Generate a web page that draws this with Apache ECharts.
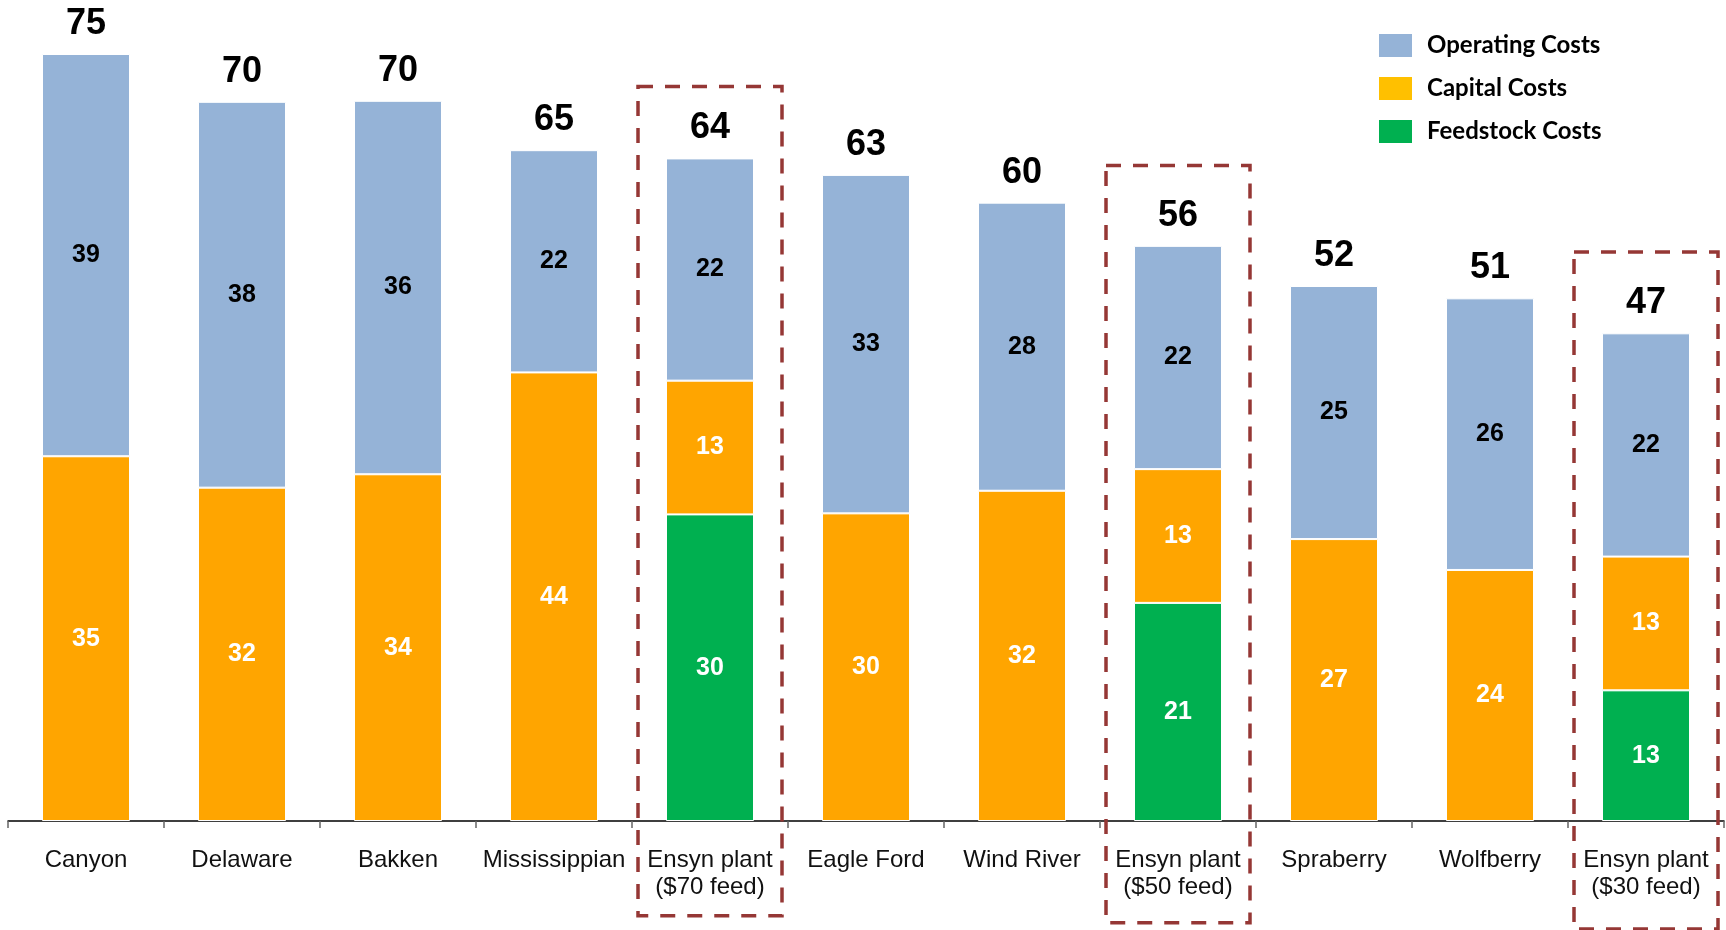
<!DOCTYPE html>
<html>
<head>
<meta charset="utf-8">
<script src="https://cdn.jsdelivr.net/npm/echarts@6/dist/echarts.min.js"></script>
<style>
html,body{margin:0;padding:0;background:#fff;}
#main{width:1726px;height:930px;}
</style>
</head>
<body>
<div id="main"></div>
<script>
const categories = ['Canyon','Delaware','Bakken','Mississippian','Ensyn plant\n($70 feed)','Eagle Ford','Wind River','Ensyn plant\n($50 feed)','Spraberry','Wolfberry','Ensyn plant\n($30 feed)'];
const feedstock = [null,null,null,null,29.8,null,null,21.2,null,null,12.7];
const capital   = [35.45,32.4,33.7,43.6,13.0,29.9,32.1,13.0,27.4,24.4,13.0];
const operating = [39.1,37.5,36.3,21.6,21.6,32.9,28.0,21.7,24.6,26.4,21.7];
const totals = categories.map((c,i)=>(feedstock[i]||0)+capital[i]+operating[i]);

// highlighted (dashed-box) categories and their vertical extent in value units
const boxCats = [4,7,10];
const boxTop = [71.4,63.7,55.3];
const boxBottom = [-9.2,-9.9,-10.5];

const chart = echarts.init(document.getElementById('main'));
const numFont = 'Liberation Sans, Arial, sans-serif';
const innerLabel = (color)=>({
  show:true, position:'inside', color:color, fontSize:25, fontWeight:'bold', fontFamily:numFont,
  formatter:(p)=> (p.value==null||p.value===0)?'':String(Math.round(p.value))
});
const barCommon = {type:'bar', stack:'cost', barWidth:88};

chart.setOption({
  backgroundColor:'#fff',
  animation:false,
  grid:{left:8,right:2,top:1,bottom:109},
  legend:{
    orient:'vertical', left:1377, top:32, padding:0,
    itemWidth:35, itemHeight:25, itemGap:16, icon:'rect',
    textStyle:{fontSize:24, fontWeight:'bold', fontFamily:'Lato, Carlito, sans-serif', color:'#000', padding:[0,0,0,9], lineHeight:25},
    data:[
      {name:'Operating Costs', itemStyle:{color:'#95B3D7'}},
      {name:'Capital Costs', itemStyle:{color:'#FFC000'}},
      {name:'Feedstock Costs', itemStyle:{color:'#00B050'}}
    ]
  },
  xAxis:{
    type:'category', data:categories,
    axisLine:{lineStyle:{color:'#000', width:1.5}},
    axisTick:{show:true, length:7, lineStyle:{color:'#666', width:1.5}},
    axisLabel:{interval:0, fontSize:24, fontFamily:numFont, color:'#111', margin:26, lineHeight:27}
  },
  yAxis:{type:'value', min:0, max:79.7, show:false, splitLine:{show:false}},
  series:[
    Object.assign({}, barCommon, {name:'Feedstock Costs', data:feedstock, itemStyle:{color:'#00B050', borderColor:'#fff', borderWidth:1}, label:innerLabel('#fff')}),
    Object.assign({}, barCommon, {name:'Capital Costs', data:capital, itemStyle:{color:'#FFA500', borderColor:'#fff', borderWidth:1}, label:innerLabel('#fff')}),
    Object.assign({}, barCommon, {name:'Operating Costs', data:operating, itemStyle:{color:'#95B3D7', borderColor:'#fff', borderWidth:1}, label:innerLabel('#000')}),
    {type:'bar', stack:'cost', barWidth:88, name:'Total', data:totals.map(()=>0),
     itemStyle:{color:'rgba(0,0,0,0)', borderWidth:0},
     label:{show:true, position:'top', distance:12, color:'#000', fontSize:36, fontWeight:'bold', fontFamily:numFont,
       formatter:(p)=>String(Math.round(totals[p.dataIndex]))}}
  ]
});

// dashed highlight boxes
const p0 = chart.convertToPixel({xAxisIndex:0,yAxisIndex:0},[0,0]);
const p1 = chart.convertToPixel({xAxisIndex:0,yAxisIndex:0},[1,0]);
const band = p1[0]-p0[0];
const graphics = boxCats.map((c,i)=>{
  const a = chart.convertToPixel({xAxisIndex:0,yAxisIndex:0},[c, boxTop[i]]);
  const b = chart.convertToPixel({xAxisIndex:0,yAxisIndex:0},[c, boxBottom[i]]);
  const half = band/2 - 6;
  return {type:'rect', shape:{x:a[0]-half, y:a[1], width:half*2, height:b[1]-a[1]},
    style:{fill:'none', stroke:'#953735', lineWidth:3.5, lineDash:[15,12]}, z:10};
});
chart.setOption({graphic:graphics});
</script>
</body>
</html>
